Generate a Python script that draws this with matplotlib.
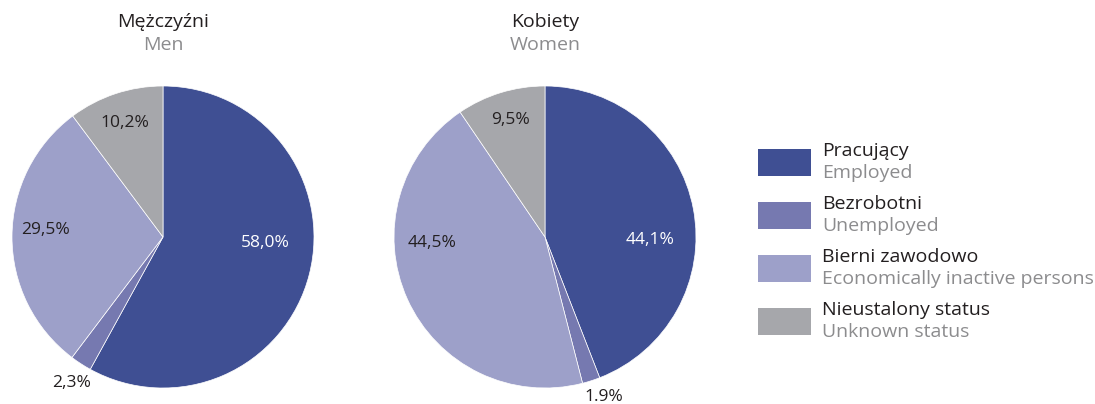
import matplotlib.pyplot as plt
from matplotlib.patches import Rectangle

# dane
kategorie_pl = ["Pracujący", "Bezrobotni", "Bierni zawodowo", "Nieustalony status"]
kategorie_en = ["Employed", "Unemployed", "Economically inactive persons", "Unknown status"]
mezczyzni = [58.0, 2.3, 29.5, 10.2]
kobiety = [44.1, 1.9, 44.5, 9.5]
etykiety_m = ["58,0%", "2,3%", "29,5%", "10,2%"]
etykiety_k = ["44,1%", "1.9%", "44,5%", "9,5%"]
kolory = ["#3f4f93", "#7679b0", "#9da0c9", "#a6a7ab"]
ciemny = "#231f20"
szary = "#8c8c8e"

plt.rcParams['font.family'] = ['Open Sans', 'DejaVu Sans']

W, H = 1095, 404
fig = plt.figure(figsize=(W / 100, H / 100), dpi=100)
ax = fig.add_axes([0, 0, 1, 1])

def py(y):
    return H - y

# pozycje etykiet (piksele)
poz_m = [(265, 243), (72, 383), (45, 230), (125, 123)]
poz_k = [(650, 240), (604, 397), (432, 243), (510, 120)]
kolor_tekstu = ["white", ciemny, ciemny, ciemny]

for vals, cx, tyt_pl, tyt_en, ety, poz in [
    (mezczyzni, 163, "Mężczyźni", "Men", etykiety_m, poz_m),
    (kobiety, 545, "Kobiety", "Women", etykiety_k, poz_k),
]:
    ax.pie(vals, colors=kolory, startangle=90, counterclock=False,
           center=(cx, py(237)), radius=151,
           wedgeprops=dict(edgecolor="white", linewidth=0.5), frame=True)
    ax.text(cx, py(22), tyt_pl, ha="center", va="center", fontsize=14, color=ciemny)
    ax.text(cx, py(45), tyt_en, ha="center", va="center", fontsize=14, color=szary)
    for t, (x, y), c in zip(ety, poz, kolor_tekstu):
        ax.text(x, py(y), t, ha="center", va="center", fontsize=12.5, color=c)

ax.set_xlim(0, W)
ax.set_ylim(0, H)
ax.set_aspect('equal')
ax.axis('off')

# legenda
ys = [163, 216, 269, 322]
for i in range(4):
    ax.add_patch(Rectangle((758, py(ys[i] + 13)), 53, 27, color=kolory[i], lw=0))
    ax.text(822, py(ys[i] - 12), kategorie_pl[i], ha="left", va="center", fontsize=14, color=ciemny)
    ax.text(822, py(ys[i] + 10), kategorie_en[i], ha="left", va="center", fontsize=14, color=szary)

fig.savefig("out.png", dpi=100)
